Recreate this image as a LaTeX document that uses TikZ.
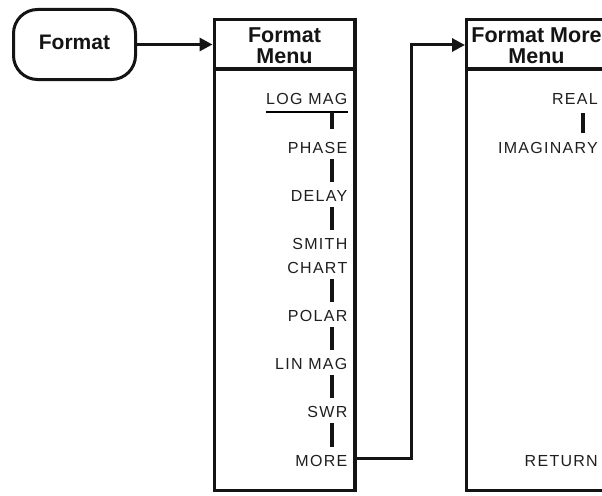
\documentclass[tikz,border=0pt]{standalone}
\usepackage{fontspec}
\setmainfont{Liberation Sans}
\usetikzlibrary{arrows.meta}
\begin{document}
\begin{tikzpicture}[x=1pt,y=-1pt,
  menubox/.style={draw=black!92, line width=3.3pt, minimum width=140.7pt, minimum height=470.7pt, inner sep=0pt},
  hdline/.style={draw=black!92, line width=3pt},
  head/.style={font=\fontsize{21.5}{21}\selectfont\bfseries, align=center, inner sep=0pt, anchor=north, text=black!92},
  item/.style={font=\fontsize{16}{18}\selectfont\addfontfeature{LetterSpace=8}, inner sep=0pt, anchor=base east, text=black!88},
  link/.style={draw=black!92, line width=3.1pt},
  arr/.style={draw=black!92, line width=3pt, -{Triangle[length=13pt,width=13pt]}},
  btnbox/.style={draw=black!92, line width=3pt, rounded corners=24pt, minimum width=122pt, minimum height=70pt,
    font=\fontsize{21}{24}\selectfont\bfseries, text height=15pt, text depth=6pt, text=black!92}
]
\clip (0,0) rectangle (602,495);
\fill[white] (0,0) rectangle (602,495);
% named coordinates
\coordinate (hdiv) at (0,69);
\coordinate (lx) at (332,0);
\coordinate (rx) at (583,0);
\coordinate (m1) at (0,458);
\coordinate (a2) at (0,45);
\coordinate (jx) at (411,0);
% button
\node[btnbox] (btn) at (74.5,44.5) {Format};
% menus
\node[menubox] (fm) at (284.5,255) {};
\node[menubox] (fmm) at (537,255) {};
\draw[hdline] (fm.west |- hdiv) -- (fm.east |- hdiv);
\draw[hdline] (fmm.west |- hdiv) -- (fmm.east |- hdiv);
\node[head] (fmh) at (284.5,27.5) {Format\\Menu};
\node[head] (fmmh) at (536.5,27.5) {Format More\\Menu};
% left items
\node[item] (logmag) at (347.5,104) {LOG MAG};
\node[item] (phase) at (347.5,153) {PHASE};
\node[item] (delay) at (347.5,201) {DELAY};
\node[item] (smith) at (347.5,249) {SMITH};
\node[item] (chart) at (347.5,273) {CHART};
\node[item] (polar) at (347.5,321) {POLAR};
\node[item] (linmag) at (347.5,369) {LIN MAG};
\node[item] (swr) at (347.5,417) {SWR};
\node[item] (more) at (347.5,466) {MORE};
\draw[line width=2.6pt] ([yshift=-8pt]logmag.base west) -- ([yshift=-8pt]logmag.base east);
\draw[link] ([yshift=-8pt]logmag.base -| lx) -- ([yshift=24pt]phase.base -| lx);
\draw[link] ([yshift=-6pt]phase.base -| lx) -- ([yshift=19pt]delay.base -| lx);
\draw[link] ([yshift=-6pt]delay.base -| lx) -- ([yshift=19pt]smith.base -| lx);
\draw[link] ([yshift=-6pt]chart.base -| lx) -- ([yshift=19pt]polar.base -| lx);
\draw[link] ([yshift=-6pt]polar.base -| lx) -- ([yshift=19pt]linmag.base -| lx);
\draw[link] ([yshift=-6pt]linmag.base -| lx) -- ([yshift=19pt]swr.base -| lx);
\draw[link] ([yshift=-6pt]swr.base -| lx) -- ([yshift=19pt]more.base -| lx);
% right items
\node[item] (real) at (598,104) {REAL};
\node[item] (imag) at (598,153) {IMAGINARY};
\node[item] (return) at (598,466) {RETURN};
\draw[link] ([yshift=-9pt]real.base -| rx) -- ([yshift=20pt]imag.base -| rx);
% arrows
\draw[arr] (btn.east) -- (btn.east -| fm.west);
\draw[arr] (fm.east |- m1) -| (jx |- a2) -- (fmm.west |- a2);
\end{tikzpicture}
\end{document}
